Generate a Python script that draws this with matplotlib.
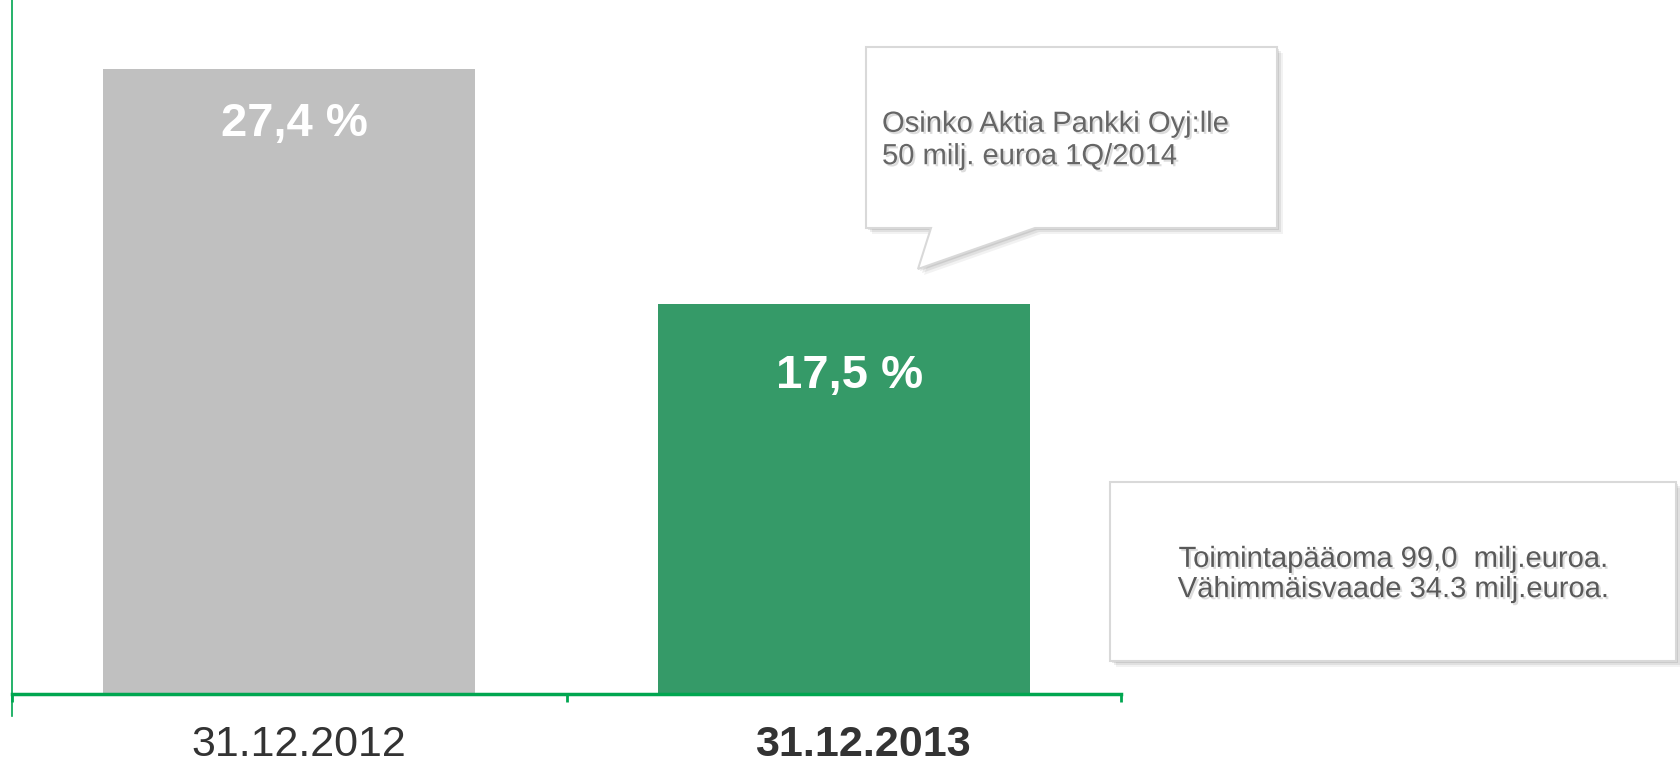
import matplotlib.pyplot as plt
import matplotlib.patheffects as pe
import matplotlib.transforms as mtrans
from matplotlib.patches import Polygon
from matplotlib.lines import Line2D

plt.rcParams['font.family'] = ['Liberation Sans', 'DejaVu Sans']

# data
categories = ['31.12.2012', '31.12.2013']
values = [27.4, 17.5]
value_labels = ['27,4 %', '17,5 %']
callout_text = 'Osinko Aktia Pankki Oyj:lle\n50 milj. euroa 1Q/2014'
box_text = 'Toimintapääoma 99,0  milj.euroa.\nVähimmäisvaade 34.3 milj.euroa.'

bar_colors = ['#c0c0c0', '#359a68']
axis_green = '#00a650'

W, H = 1680, 766
fig = plt.figure(figsize=(W / 100, H / 100), dpi=100)
ax = fig.add_axes([12 / W, 72 / H, 1109 / W, 694 / H])

x = list(range(len(categories)))
bars = ax.bar(x, values, width=0.67, color=bar_colors)

# value labels inside bars
label_offsets = [-40, -52]
for xi, v, lab, off in zip(x, values, value_labels, label_offsets):
    ax.annotate(lab, (xi, v), xytext=(4, off), textcoords='offset points',
                ha='center', va='center', color='white', fontsize=34, fontweight='bold')

ax.set_xlim(-0.5, 1.5)
ax.set_ylim(1.07, 30.3)
ax.set_yticks([])
ax.set_xticks(x)
ax.set_xticklabels(categories, fontsize=31, color='#333333')
ax.get_xticklabels()[1].set_fontweight('bold')
ax.tick_params(axis='x', which='major', length=0, pad=22)
ax.set_xticks([-0.5, 0.5, 1.5], minor=True)
ax.tick_params(axis='x', which='minor', length=6, width=2, color=axis_green, direction='out')

# labels sit a little right of the bar centres in the original
for lab, dx in zip(ax.get_xticklabels(), [10, 19]):
    lab.set_transform(lab.get_transform() + mtrans.ScaledTranslation(dx / 100, 0, fig.dpi_scale_trans))

for s in ['top', 'right']:
    ax.spines[s].set_visible(False)
ax.spines['bottom'].set_color(axis_green)
ax.spines['bottom'].set_linewidth(2.5)
ax.spines['left'].set_color(axis_green)
ax.spines['left'].set_linewidth(1.2)
# left line goes a bit below the x axis
fig.add_artist(Line2D([12 / W, 12 / W], [1 - 694 / H, 1 - 716 / H], color=axis_green, lw=1.2))


def fx(px):
    return px / W


def fy(py):
    return 1 - py / H


def shape(pts, face='white', edge='#d9d9d9'):
    # soft shadow layers
    for d, a in [(6, 0.05), (4, 0.07), (2, 0.09)]:
        sh = [(fx(p[0] + d), fy(p[1] + d)) for p in pts]
        fig.add_artist(Polygon(sh, closed=True, transform=fig.transFigure,
                               facecolor='black', edgecolor='none', alpha=a))
    fig.add_artist(Polygon([(fx(p[0]), fy(p[1])) for p in pts], closed=True,
                           transform=fig.transFigure, facecolor=face, edgecolor=edge, lw=1.5))


shadow = [pe.withSimplePatchShadow(offset=(1.5, -1.5), shadow_rgbFace='#bbbbbb', alpha=0.5)]

# speech bubble
bubble = [(866, 47), (1277, 47), (1277, 228), (1035, 228), (918, 269), (931, 228), (866, 228)]
shape(bubble)
fig.text(fx(882), fy(140), callout_text, ha='left', va='center', fontsize=21,
         color='#666666', linespacing=1.2, path_effects=shadow)

# info box
box = [(1110, 482), (1676, 482), (1676, 661), (1110, 661)]
shape(box)
fig.text(fx(1393), fy(574), box_text, ha='center', va='center', fontsize=21,
         color='#595959', linespacing=1.1, multialignment='center', path_effects=shadow)

fig.savefig('out.png', dpi=100)
